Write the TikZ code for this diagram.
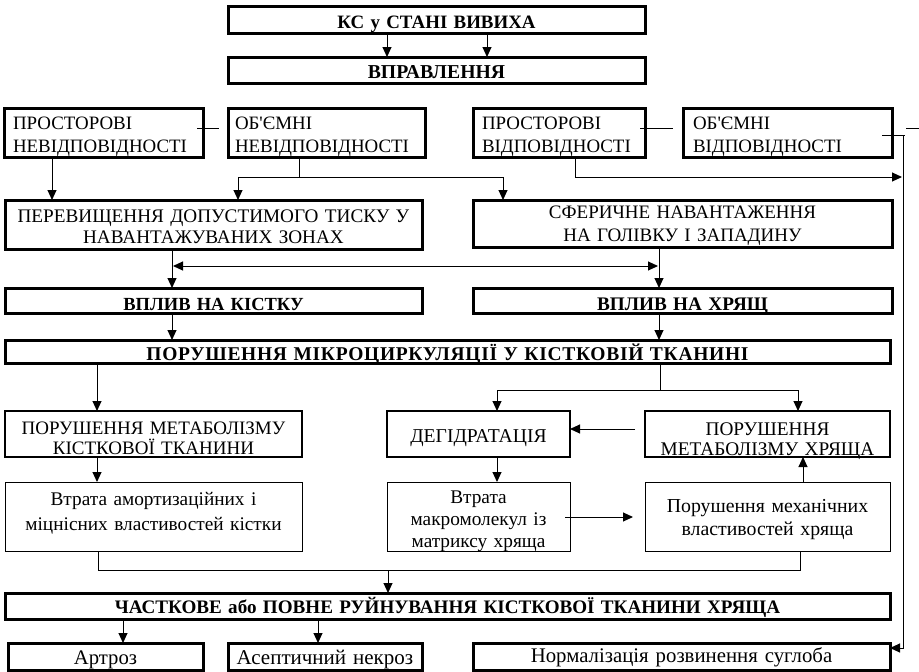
\documentclass[tikz,border=0pt]{standalone}
\usepackage{fontspec}
\setmainfont{Liberation Serif}
\usetikzlibrary{arrows.meta,calc}
\begin{document}
\begin{tikzpicture}[x=1pt,y=-1pt,
  bx/.style={draw, inner xsep=0pt, inner ysep=0pt, outer sep=0pt, align=center, anchor=north},
  thk/.style={bx, line width=3pt},
  med/.style={bx, line width=1.8pt},
  thn/.style={bx, line width=1pt},
  bold/.style 2 args={font=\fontsize{#1}{20}\selectfont\bfseries\addfontfeature{LetterSpace=#2}},
  fs/.style 2 args={font=\fontsize{#1}{#2}\selectfont},
  tb/.style 2 args={text height=#1, text depth=#2},
  lbox/.style={align=left},
  conn/.style={line width=1pt},
  tip/.tip={Triangle[length=10pt,width=9pt]},
  arr/.style={conn, -tip},
]
\useasboundingbox (0,0) rectangle (919,672);
% boxes
\node[thk, bold={18.9}{0}, tb={22pt}{5pt}, text width=417pt] (ks) at (436.5,6) {КС у СТАНІ ВИВИХА};
\node[thk, bold={19.7}{0}, tb={21pt}{5pt}, text width=417pt] (vpr) at (436.5,57) {ВПРАВЛЕННЯ};
\node[thk, lbox, fs={18.9}{22.5}, tb={21.5pt}{27.5pt}, inner xsep=9pt, text width=181pt] (pn) at (103.5,108) {ПРОСТОРОВІ\\НЕВІДПОВІДНОСТІ};
\node[thk, lbox, fs={18.9}{22.5}, tb={21.5pt}{27.5pt}, inner xsep=7pt, text width=183pt] (on) at (326.5,108) {ОБ\textquotesingle ЄМНІ\\НЕВІДПОВІДНОСТІ};
\node[thk, lbox, fs={18.9}{22.5}, tb={21.5pt}{27.5pt}, inner xsep=9pt, text width=154pt] (pv) at (559,108) {ПРОСТОРОВІ\\ВІДПОВІДНОСТІ};
\node[thk, lbox, fs={18.9}{22.5}, tb={21.5pt}{27.5pt}, inner xsep=10pt, text width=189pt] (ov) at (787.5,108) {ОБ\textquotesingle ЄМНІ\\ВІДПОВІДНОСТІ};
\node[thk, fs={19.2}{21}, tb={22pt}{27pt}, text width=417pt] (per) at (213.5,200) {ПЕРЕВИЩЕННЯ ДОПУСТИМОГО ТИСКУ У\\НАВАНТАЖУВАНИХ ЗОНАХ};
\node[thk, fs={19}{23.5}, tb={18pt}{29pt}, text width=419pt] (sph) at (682.5,200) {СФЕРИЧНЕ НАВАНТАЖЕННЯ\\НА ГОЛІВКУ І ЗАПАДИНУ};
\node[thk, bold={18.5}{0}, tb={22pt}{3pt}, text width=417pt] (vk) at (213.5,288) {ВПЛИВ НА КІСТКУ};
\node[thk, bold={19.2}{0}, tb={22pt}{3pt}, text width=419pt] (vh) at (682.5,288) {ВПЛИВ НА ХРЯЩ};
\node[thk, bold={19.5}{3.6}, tb={20pt}{3pt}, text width=885pt] (mic) at (447.5,340) {ПОРУШЕННЯ МІКРОЦИРКУЛЯЦІЇ У КІСТКОВІЙ ТКАНИНІ};
\node[med, fs={19}{20}, tb={23pt}{23pt}, text width=297pt] (mk) at (153.5,411) {ПОРУШЕННЯ МЕТАБОЛІЗМУ\\КІСТКОВОЇ ТКАНИНИ};
\node[med, fs={19.6}{20}, tb={31pt}{15pt}, text width=183pt] (deg) at (478.5,411) {ДЕГІДРАТАЦІЯ};
\node[med, fs={19.3}{20}, tb={24pt}{22pt}, text width=245pt] (mh) at (767.5,411) {ПОРУШЕННЯ\\МЕТАБОЛІЗМУ ХРЯЩА};
\node[thn, fs={19.3}{25}, tb={23pt}{46pt}, text width=297pt] (va) at (153.5,482) {Втрата амортизаційних і\\міцнісних властивостей кістки};
\node[thn, fs={19.3}{22}, tb={21pt}{48pt}, text width=183pt] (vm) at (478.5,482) {Втрата\\макромолекул із\\матриксу хряща};
\node[thn, fs={19.8}{23.5}, tb={30pt}{39pt}, text width=245pt] (pm) at (767.5,482) {Порушення механічних\\властивостей хряща};
\node[thk, bold={19.1}{0}, tb={20pt}{6pt}, text width=885pt] (ch) at (447.5,593) {ЧАСТКОВЕ або ПОВНЕ РУЙНУВАННЯ КІСТКОВОЇ ТКАНИНИ ХРЯЩА};
\node[thk, fs={20.7}{22}, tb={21pt}{6pt}, text width=195pt] (ar) at (105.5,643) {Артроз};
\node[thk, fs={21}{22}, tb={21pt}{6pt}, text width=194pt] (as) at (325,643) {Асептичний некроз};
\node[thk, fs={20.8}{22}, tb={19pt}{8pt}, text width=417pt] (norm) at (681.5,643) {Нормалізація розвинення суглоба};
% connectors
\draw[arr] (387,0 |- ks.south) -- (387,0 |- vpr.north);
\draw[arr] (487,0 |- ks.south) -- (487,0 |- vpr.north);
\draw[conn] ($(pn.east)+(-6,-4.5)$) -- ++(22,0);
\draw[conn] ($(pv.east)+(-5,-4.5)$) -- ++(33,0);
\draw[conn] ($(ov.east)+(-10,2.5)$) -- (905,135);
\coordinate (tk) at (919,128);
\draw[conn] (906,128) -- (tk);
\draw[arr] (903,135) |- ($(norm.east)+(0,-8.5)$);
\draw[arr] (575,0 |- pv.south) -- (575,177) -- (902,177);
\draw[arr] (52,0 |- pn.south) -- (52,0 |- per.north);
\draw[conn] (299,0 |- on.south) -- (299,177);
\draw[arr] (299,177) -| (238,0 |- per.north);
\draw[arr] (299,177) -| (503,0 |- sph.north);
\draw[arr] (172,0 |- per.south) -- (172,0 |- vk.north);
\draw[conn, tip-tip] (173,266) -- (658,266);
\draw[arr] (659,0 |- sph.south) -- (659,0 |- vh.north);
\draw[arr] (172,0 |- vk.south) -- (172,0 |- mic.north);
\draw[arr] (659,0 |- vh.south) -- (659,0 |- mic.north);
\draw[arr] (97,0 |- mic.south) -- (97,0 |- mk.north);
\draw[conn] (660,0 |- mic.south) -- (660,390);
\draw[arr] (660,390) -| (497,0 |- deg.north);
\draw[arr] (660,390) -| (798,0 |- mh.north);
\draw[arr] ($(mh.west)+(-10,-5)$) -- (deg.east |- 0,429);
\draw[arr] (497,0 |- deg.south) -- (497,0 |- vm.north);
\draw[arr] (97,0 |- mk.south) -- (97,0 |- va.north);
\draw[arr] ($(vm.east)+(-5,0.5)$) -- ($(pm.west)+(-12,0.5)$);
\draw[arr] (803,0 |- pm.north) -- (803,0 |- mh.south);
\draw[conn] (98,0 |- va.south) |- (800,570) -- (800,0 |- pm.south);
\draw[arr] (388,570) -- (388,0 |- ch.north);
\draw[arr] (123,0 |- ch.south) -- (123,0 |- ar.north);
\draw[arr] (318,0 |- ch.south) -- (318,0 |- as.north);
\end{tikzpicture}
\end{document}
